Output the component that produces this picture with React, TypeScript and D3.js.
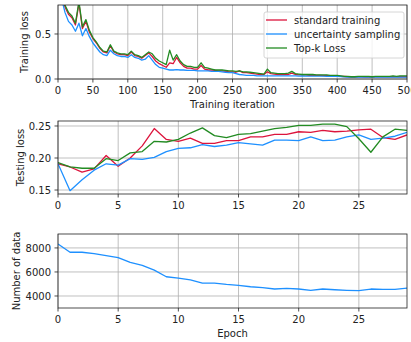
import React from "react";
import * as d3 from "d3";

// training loss, sampled every 5 iterations
const iterations = d3.range(0, 501, 5);
const trainStandard = [
  1.28, 0.98, 0.8, 0.72, 0.68, 0.6, 0.84, 0.56, 0.64, 0.52, 0.45, 0.4, 0.34, 0.3, 0.29, 0.37, 0.3, 0.28, 0.27, 0.27,
  0.26, 0.3, 0.26, 0.25, 0.23, 0.26, 0.29, 0.25, 0.2, 0.17, 0.15, 0.13, 0.18, 0.17, 0.24, 0.18, 0.14, 0.12, 0.12, 0.11,
  0.11, 0.15, 0.11, 0.1, 0.1, 0.095, 0.09, 0.09, 0.085, 0.08, 0.08, 0.075, 0.09, 0.07, 0.07, 0.065, 0.06, 0.055, 0.05, 0.05,
  0.08, 0.06, 0.055, 0.05, 0.05, 0.05, 0.05, 0.065, 0.05, 0.045, 0.045, 0.045, 0.04, 0.04, 0.04, 0.04, 0.038, 0.038, 0.036, 0.035,
  0.035, 0.03, 0.028, 0.025, 0.02, 0.022, 0.025, 0.024, 0.022, 0.024, 0.022, 0.025, 0.024, 0.025, 0.024, 0.025, 0.026, 0.025, 0.026, 0.025,
  0.025,
];
const trainUncertainty = [
  1.2, 0.9, 0.74, 0.64, 0.6, 0.53, 0.62, 0.48, 0.56, 0.47, 0.4, 0.35, 0.3, 0.27, 0.26, 0.32, 0.28, 0.26, 0.25, 0.25,
  0.24, 0.27, 0.24, 0.23, 0.21, 0.22, 0.26, 0.21, 0.16, 0.13, 0.12, 0.11, 0.1, 0.1, 0.105, 0.1, 0.1, 0.095, 0.095, 0.095,
  0.09, 0.09, 0.09, 0.09, 0.085, 0.085, 0.085, 0.08, 0.075, 0.07, 0.07, 0.06, 0.05, 0.045, 0.04, 0.04, 0.04, 0.035, 0.035, 0.035,
  0.035, 0.035, 0.035, 0.035, 0.034, 0.035, 0.034, 0.035, 0.034, 0.033, 0.034, 0.033, 0.032, 0.032, 0.032, 0.031, 0.031, 0.03, 0.03, 0.03,
  0.03, 0.028, 0.025, 0.022, 0.02, 0.02, 0.021, 0.02, 0.02, 0.021, 0.02, 0.02, 0.02, 0.021, 0.02, 0.02, 0.021, 0.02, 0.02, 0.02,
  0.02,
];
const trainTopK = [
  1.3, 1.0, 0.82, 0.74, 0.7, 0.62, 0.86, 0.58, 0.66, 0.54, 0.46, 0.41, 0.35, 0.31, 0.3, 0.38, 0.31, 0.29, 0.28, 0.28,
  0.27, 0.31, 0.27, 0.26, 0.24, 0.27, 0.3, 0.28, 0.23, 0.2, 0.18, 0.16, 0.32, 0.21, 0.27, 0.2, 0.16, 0.14, 0.14, 0.13,
  0.13, 0.18, 0.13, 0.12, 0.11, 0.1, 0.1, 0.1, 0.095, 0.09, 0.09, 0.085, 0.09, 0.08, 0.08, 0.075, 0.07, 0.065, 0.06, 0.055,
  0.11, 0.07, 0.065, 0.06, 0.06, 0.06, 0.065, 0.085, 0.06, 0.055, 0.05, 0.05, 0.05, 0.05, 0.045, 0.045, 0.045, 0.045, 0.04, 0.04,
  0.04, 0.035, 0.03, 0.03, 0.025, 0.025, 0.03, 0.03, 0.03, 0.03, 0.025, 0.03, 0.03, 0.03, 0.03, 0.03, 0.035, 0.03, 0.035, 0.035,
  0.035,
];

// testing loss per epoch
const epochs = d3.range(0, 30);
const testStandard = [
  0.191, 0.186, 0.178, 0.183, 0.204, 0.187, 0.2, 0.219, 0.246, 0.229, 0.226, 0.231, 0.223, 0.223, 0.227,
  0.227, 0.233, 0.233, 0.237, 0.237, 0.241, 0.24, 0.243, 0.241, 0.242, 0.244, 0.245, 0.232, 0.229, 0.236,
];
const testUncertainty = [
  0.191, 0.149, 0.166, 0.181, 0.191, 0.189, 0.199, 0.198, 0.201, 0.21, 0.215, 0.216, 0.221, 0.218, 0.22,
  0.224, 0.222, 0.22, 0.228, 0.228, 0.227, 0.233, 0.227, 0.228, 0.233, 0.236, 0.229, 0.231, 0.234, 0.24,
];
const testTopK = [
  0.193, 0.186, 0.184, 0.184, 0.199, 0.196, 0.208, 0.21, 0.226, 0.225, 0.229, 0.239, 0.247, 0.235, 0.232,
  0.237, 0.238, 0.242, 0.246, 0.248, 0.251, 0.251, 0.253, 0.253, 0.249, 0.23, 0.209, 0.233, 0.245, 0.243,
];

// number of data per epoch
const dataCount = [
  8330, 7640, 7640, 7530, 7365, 7200, 6790, 6540, 6150, 5600, 5490, 5350, 5075, 5075, 4965,
  4880, 4770, 4690, 4580, 4630, 4580, 4470, 4580, 4520, 4470, 4440, 4580, 4550, 4550, 4660,
];

const RED = "#dc143c";
const BLUE = "#1e90ff";
const GREEN = "#228b22";
const legendItems = [
  { label: "standard training", color: RED },
  { label: "uncertainty sampling", color: BLUE },
  { label: "Top-k Loss", color: GREEN },
];

const FONT = "DejaVu Sans, sans-serif";
const FS = 10;
const LEFT = 58;
const RIGHT = 407;

type Series = { x: number[]; y: number[]; color: string };

function Panel(props: {
  id: string;
  top: number;
  bottom: number;
  xDomain: [number, number];
  yDomain: [number, number];
  xTicks: number[];
  yTicks: number[];
  yFormat: (v: number) => string;
  series: Series[];
  yLabel: string;
  yLabelX: number;
  xLabel?: string;
}) {
  const { id, top, bottom, xDomain, yDomain, xTicks, yTicks, yFormat, series, yLabel, yLabelX, xLabel } = props;
  const x = d3.scaleLinear().domain(xDomain).range([LEFT, RIGHT]);
  const y = d3.scaleLinear().domain(yDomain).range([bottom, top]);
  const line = d3
    .line<[number, number]>()
    .x((d) => x(d[0]))
    .y((d) => y(d[1]));
  return (
    <g>
      <defs>
        <clipPath id={id}>
          <rect x={LEFT} y={top} width={RIGHT - LEFT} height={bottom - top} />
        </clipPath>
      </defs>
      {xTicks.map((t) => (
        <line key={"gx" + t} x1={x(t)} x2={x(t)} y1={top} y2={bottom} stroke="#b0b0b0" strokeWidth={0.8} />
      ))}
      {yTicks.map((t) => (
        <line key={"gy" + t} x1={LEFT} x2={RIGHT} y1={y(t)} y2={y(t)} stroke="#b0b0b0" strokeWidth={0.8} />
      ))}
      <g clipPath={`url(#${id})`}>
        {series.map((s, i) => (
          <path
            key={i}
            d={line(s.x.map((v, j) => [v, s.y[j]] as [number, number])) || ""}
            fill="none"
            stroke={s.color}
            strokeWidth={1.3}
            strokeLinejoin="round"
          />
        ))}
      </g>
      <rect x={LEFT} y={top} width={RIGHT - LEFT} height={bottom - top} fill="none" stroke="#222" strokeWidth={0.8} />
      {xTicks.map((t) => (
        <g key={"tx" + t}>
          <line x1={x(t)} x2={x(t)} y1={bottom} y2={bottom + 3.5} stroke="#222" strokeWidth={0.8} />
          <text x={x(t)} y={bottom + 14.5} textAnchor="middle" fontSize={FS} fontFamily={FONT} fill="#222">
            {t}
          </text>
        </g>
      ))}
      {yTicks.map((t) => (
        <g key={"ty" + t}>
          <line x1={LEFT - 3.5} x2={LEFT} y1={y(t)} y2={y(t)} stroke="#222" strokeWidth={0.8} />
          <text x={LEFT - 7} y={y(t) + 3.6} textAnchor="end" fontSize={FS} fontFamily={FONT} fill="#222">
            {yFormat(t)}
          </text>
        </g>
      ))}
      <text
        transform={`translate(${yLabelX},${(top + bottom) / 2}) rotate(-90)`}
        textAnchor="middle"
        dy="0.35em"
        fontSize={FS}
        fontFamily={FONT}
        fill="#222"
      >
        {yLabel}
      </text>
      {xLabel && (
        <text x={(LEFT + RIGHT) / 2} y={bottom + 28.5} textAnchor="middle" fontSize={FS} fontFamily={FONT} fill="#222">
          {xLabel}
        </text>
      )}
    </g>
  );
}

export default function App() {
  return (
    <svg
      width={411}
      height={342}
      style={{ position: "absolute", left: 0, top: 0, background: "#fff" }}
    >
      <Panel
        id="c1"
        top={5}
        bottom={79}
        xDomain={[0, 500]}
        yDomain={[0, 0.822]}
        xTicks={d3.range(0, 501, 50)}
        yTicks={[0, 0.5]}
        yFormat={(v) => v.toFixed(1)}
        series={[
          { x: iterations, y: trainStandard, color: RED },
          { x: iterations, y: trainUncertainty, color: BLUE },
          { x: iterations, y: trainTopK, color: GREEN },
        ]}
        yLabel="Training loss"
        yLabelX={24}
        xLabel="Training iteration"
      />
      <g>
        <rect x={264} y={12} width={140} height={46} rx={2} fill="#fff" fillOpacity={0.8} stroke="#ccc" strokeWidth={0.8} />
        {legendItems.map((d, i) => (
          <g key={d.label} transform={`translate(0,${20 + i * 14})`}>
            <line x1={266} x2={287} y1={0} y2={0} stroke={d.color} strokeWidth={1.3} />
            <text x={294} y={3.6} fontSize={FS} fontFamily={FONT} fill="#222">
              {d.label}
            </text>
          </g>
        ))}
      </g>
      <Panel
        id="c2"
        top={121}
        bottom={194}
        xDomain={[0, 29]}
        yDomain={[0.1438, 0.2578]}
        xTicks={[0, 5, 10, 15, 20, 25]}
        yTicks={[0.15, 0.2, 0.25]}
        yFormat={(v) => v.toFixed(2)}
        series={[
          { x: epochs, y: testStandard, color: RED },
          { x: epochs, y: testUncertainty, color: BLUE },
          { x: epochs, y: testTopK, color: GREEN },
        ]}
        yLabel="Testing loss"
        yLabelX={20}
      />
      <Panel
        id="c3"
        top={234}
        bottom={308}
        xDomain={[0, 29]}
        yDomain={[3000, 9160]}
        xTicks={[0, 5, 10, 15, 20, 25]}
        yTicks={[4000, 6000, 8000]}
        yFormat={(v) => String(v)}
        series={[{ x: epochs, y: dataCount, color: BLUE }]}
        yLabel="Number of data"
        yLabelX={16}
        xLabel="Epoch"
      />
    </svg>
  );
}
